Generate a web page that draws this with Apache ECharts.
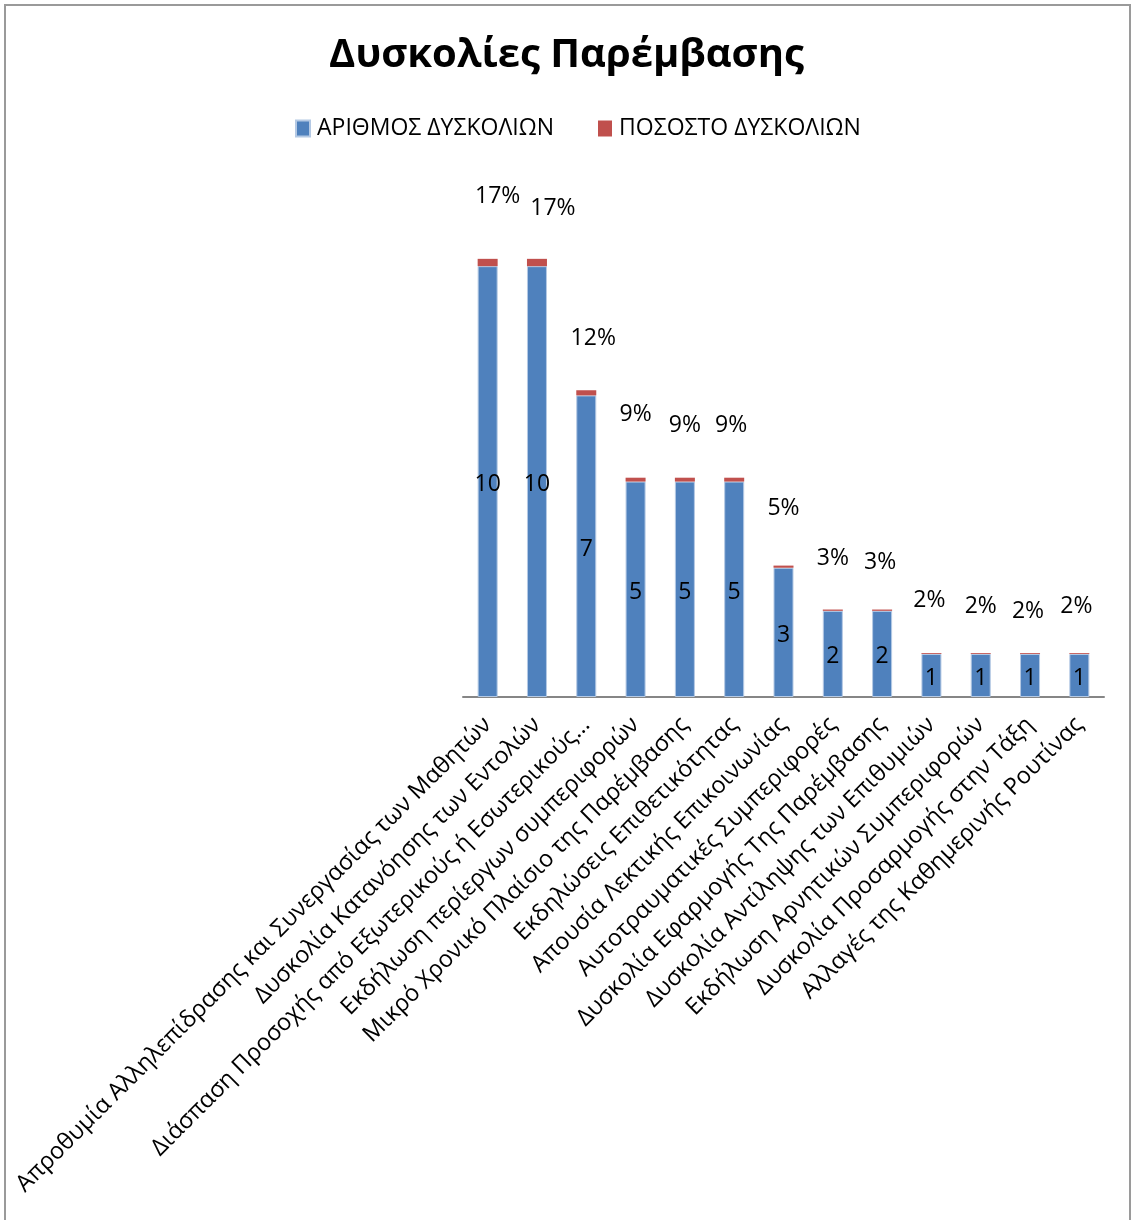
<!DOCTYPE html>
<html>
<head>
<meta charset="utf-8">
<title>Δυσκολίες Παρέμβασης</title>
<script src="https://cdn.jsdelivr.net/npm/echarts@6/dist/echarts.min.js"></script>
<style>
  html, body { margin: 0; padding: 0; background: #ffffff; }
  #chart { width: 1133px; height: 1220px; }
</style>
</head>
<body>
<div id="chart"></div>
<script>
// Difficulty categories, in the order they are plotted
const categories = [
  'Απροθυμία Αλληλεπίδρασης και Συνεργασίας των Μαθητών',
  'Δυσκολία Κατανόησης των Εντολών',
  'Διάσπαση Προσοχής από Εξωτερικούς ή Εσωτερικούς…',
  'Εκδήλωση περίεργων συμπεριφορών',
  'Μικρό Χρονικό Πλαίσιο της Παρέμβασης',
  'Εκδηλώσεις Επιθετικότητας',
  'Απουσία Λεκτικής Επικοινωνίας',
  'Αυτοτραυματικές Συμπεριφορές',
  'Δυσκολία Εφαρμογής Της Παρέμβασης',
  'Δυσκολία Αντίληψης των Επιθυμιών',
  'Εκδήλωση Αρνητικών Συμπεριφορών',
  'Δυσκολία Προσαρμογής στην Τάξη',
  'Αλλαγές της Καθημερινής Ρουτίνας'
];

// Number of difficulties reported per category
const difficultyCount = [10, 10, 7, 5, 5, 5, 3, 2, 2, 1, 1, 1, 1];

// Share of all difficulties (fraction), stacked on top of the counts
const difficultyShare = [0.17, 0.17, 0.12, 0.09, 0.09, 0.09, 0.05, 0.03, 0.03, 0.02, 0.02, 0.02, 0.02];

const seriesNames = ['ΑΡΙΘΜΟΣ ΔΥΣΚΟΛΙΩΝ', 'ΠΟΣΟΣΤΟ ΔΥΣΚΟΛΙΩΝ'];

// Hand-placed nudges [dx, dy] for the percentage labels above each bar
const pctLabelShift = [
  [10, -51], [16, -39], [7, -40], [0, -52], [0, -41], [-3, -41], [0, -46],
  [0, -40], [-2, -36], [-2, -41], [0, -35], [-2, -30], [-3, -35]
];

const FONT = '"Open Sans", "Noto Sans", sans-serif';

const chart = echarts.init(document.getElementById('chart'), null, { renderer: 'canvas' });

chart.setOption({
  backgroundColor: '#ffffff',
  animation: false,
  title: {
    text: 'Δυσκολίες Παρέμβασης',
    left: 'center',
    top: 31,
    textStyle: { fontFamily: FONT, fontSize: 40, fontWeight: 'bold', color: '#000000' }
  },
  legend: {
    left: 290,
    top: 112,
    itemWidth: 14,
    itemHeight: 16,
    itemGap: 44,
    icon: 'rect',
    textStyle: { fontFamily: FONT, fontSize: 23, color: '#000000', padding: [0, 0, 0, 2] },
    data: seriesNames
  },
  grid: { left: 463, right: 29, top: 180, bottom: 523 },
  xAxis: {
    type: 'category',
    data: categories,
    axisTick: { show: false },
    axisLine: { lineStyle: { color: '#868686', width: 2 } },
    axisLabel: {
      interval: 0,
      rotate: 45,
      margin: 24,
      fontFamily: FONT,
      fontSize: 23.5,
      color: '#000000'
    }
  },
  yAxis: {
    type: 'value',
    min: 0,
    max: 12,
    show: false,
    splitLine: { show: false }
  },
  series: [
    {
      name: seriesNames[0],
      type: 'bar',
      stack: 'total',
      barWidth: 20,
      data: difficultyCount,
      itemStyle: { color: '#4F81BD', borderColor: '#b4c9e4', borderWidth: 1 },
      label: {
        show: true,
        position: 'inside',
        offset: [0, 3],
        fontFamily: FONT,
        fontSize: 23,
        color: '#000000'
      }
    },
    {
      name: seriesNames[1],
      type: 'bar',
      stack: 'total',
      barWidth: 20,
      data: difficultyShare.map((v, i) => ({
        value: v,
        label: { offset: pctLabelShift[i] }
      })),
      itemStyle: { color: '#C0504D' },
      label: {
        show: true,
        position: 'top',
        distance: 0,
        fontFamily: FONT,
        fontSize: 23,
        color: '#000000',
        formatter: p => Math.round(p.value * 100) + '%'
      }
    }
  ],
  graphic: [
    {
      type: 'rect',
      silent: true,
      shape: { x: 5, y: 5, width: 1125, height: 1240 },
      style: { fill: 'none', stroke: '#9a9a9a', lineWidth: 2 }
    }
  ]
});
</script>
</body>
</html>
